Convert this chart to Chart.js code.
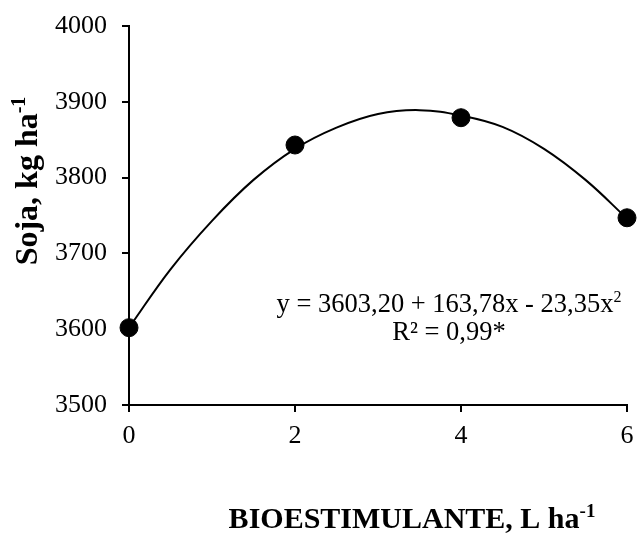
<!DOCTYPE html>
<html>
<head>
<meta charset="utf-8">
<script src="https://cdn.jsdelivr.net/npm/chart.js@4.4.1/dist/chart.umd.min.js"></script>
<style>
  html, body { margin: 0; padding: 0; background: #fff; }
  #wrap { width: 637px; height: 535px; position: relative; }
</style>
</head>
<body>
<div id="wrap"><canvas id="sojaChart"></canvas></div>
<script>
// ======================================
// DATA
// ======================================
const doses = [0, 2, 4, 6];                 // L ha-1
const soja = [3602, 3843, 3879, 3747];      // kg ha-1 (observed)
// fitted curve, read off the picture
const curveX = [0, 0.5, 1, 1.5, 2, 2.5, 3, 3.5, 4, 4.5, 5, 5.5, 6];
const curveY = [3602, 3679, 3743, 3797, 3838, 3866, 3884, 3889, 3882, 3867, 3838, 3797, 3746];
const yTicks = [3500, 3600, 3700, 3800, 3900, 4000];
const xTicks = [0, 2, 4, 6];

const SERIF = '"Liberation Serif", "Times New Roman", serif';

// ======================================
// TEXT PLUGIN (axis titles + equation)
// ======================================
function drawSup(ctx, base, sup, x, y, size, bold, align) {
    const w = bold ? 'bold ' : '';
    ctx.font = w + size + 'px ' + SERIF;
    const bw = ctx.measureText(base).width;
    ctx.font = w + Math.round(size * 0.62) + 'px ' + SERIF;
    const sw = ctx.measureText(sup).width;
    let x0 = x;
    if (align === 'center') x0 = x - (bw + sw) / 2;
    else if (align === 'right') x0 = x - (bw + sw);
    ctx.textAlign = 'left';
    ctx.textBaseline = 'alphabetic';
    ctx.font = w + size + 'px ' + SERIF;
    ctx.fillText(base, x0, y);
    ctx.font = w + Math.round(size * 0.62) + 'px ' + SERIF;
    ctx.fillText(sup, x0 + bw, y - size * 0.38);
}

const textPlugin = {
    id: 'textPlugin',
    afterDraw(chart) {
        const ctx = chart.ctx;
        ctx.save();
        ctx.fillStyle = '#000';
        // y title
        ctx.save();
        ctx.translate(37, 181);
        ctx.rotate(-Math.PI / 2);
        drawSup(ctx, 'Soja, kg ha', '-1', 0, 0, 32, true, 'center');
        ctx.restore();
        // x title
        drawSup(ctx, 'BIOESTIMULANTE, L ha', '-1', 412, 528, 30, true, 'center');
        // equation
        drawSup(ctx, 'y = 3603,20 + 163,78x - 23,35x', '2', 449, 312, 26.5, false, 'center');
        ctx.font = '26.5px ' + SERIF;
        ctx.textAlign = 'center';
        ctx.fillText('R\u00B2 = 0,99*', 449, 340);
        ctx.restore();
    }
};

// ======================================
// CHART
// ======================================
document.addEventListener('DOMContentLoaded', function() {
    const ctx = document.getElementById('sojaChart').getContext('2d');
    new Chart(ctx, {
        type: 'scatter',
        data: {
            datasets: [
                {
                    type: 'line',
                    label: 'Ajuste',
                    data: curveX.map((x, i) => ({ x: x, y: curveY[i] })),
                    borderColor: '#000', borderWidth: 2,
                    pointRadius: 0, fill: false,
                    tension: 0.4,
                    clip: false, order: 2
                },
                {
                    label: 'Soja',
                    data: doses.map((x, i) => ({ x: x, y: soja[i] })),
                    backgroundColor: '#000', borderColor: '#000',
                    pointRadius: 9, pointHoverRadius: 9,
                    clip: false, order: 1
                }
            ]
        },
        options: {
            responsive: true, maintainAspectRatio: false,
            animation: false,
            layout: { padding: { top: 26, right: 6, left: 0, bottom: 0 } },
            plugins: { legend: { display: false }, tooltip: { enabled: false } },
            scales: {
                x: {
                    type: 'linear', min: 0, max: 6,
                    afterBuildTicks: (s) => { s.ticks = xTicks.map(v => ({ value: v })); },
                    afterFit: (s) => { s.height = 130; s.paddingLeft = 0; s.paddingRight = 0; },
                    grid: { drawOnChartArea: false, drawTicks: true, tickLength: 7, color: '#000', lineWidth: 2 },
                    border: { display: true, color: '#000', width: 2 },
                    ticks: { color: '#000', font: { family: SERIF, size: 26 }, padding: 9, maxRotation: 0,
                             callback: (v) => String(v) }
                },
                y: {
                    min: 3500, max: 4000,
                    afterBuildTicks: (s) => { s.ticks = yTicks.map(v => ({ value: v })); },
                    afterFit: (s) => { s.width = 129; s.paddingTop = 0; s.paddingBottom = 0; },
                    grid: { drawOnChartArea: false, drawTicks: true, tickLength: 7, color: '#000', lineWidth: 2 },
                    border: { display: true, color: '#000', width: 2 },
                    ticks: { color: '#000', font: { family: SERIF, size: 26 }, padding: 15,
                             callback: (v) => String(v) }
                }
            }
        },
        plugins: [textPlugin]
    });
});
</script>
</body>
</html>
